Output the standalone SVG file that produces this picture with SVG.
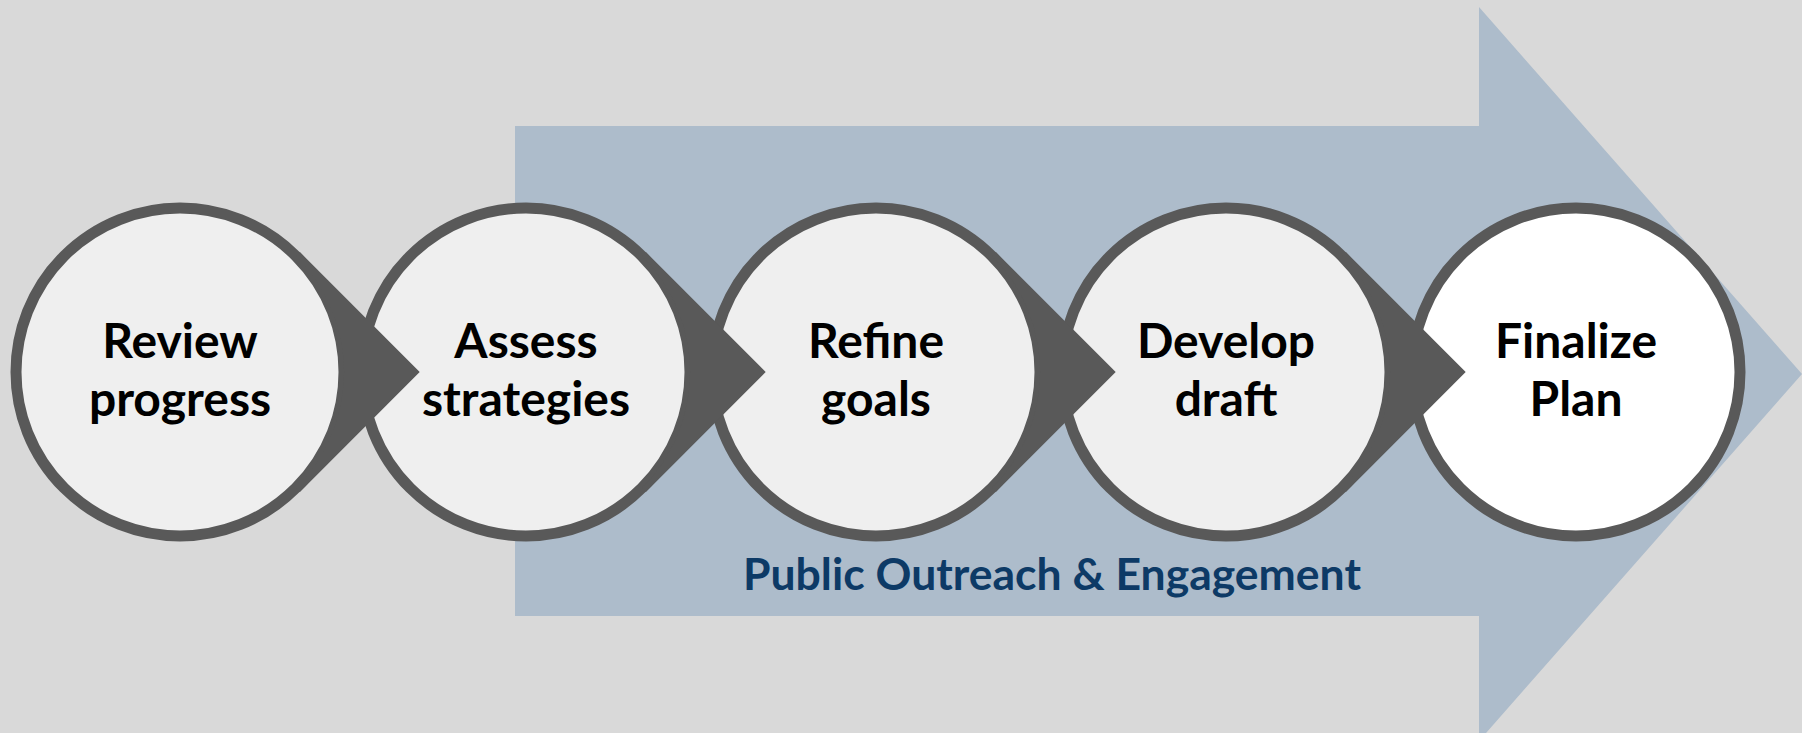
<svg xmlns="http://www.w3.org/2000/svg" width="1802" height="733" viewBox="0 0 1802 733">
  <style>
    .ring { fill: #efefef; stroke: #595959; stroke-width: 11; }
    .ring.last { fill: #ffffff; }
    .lbl { font-family: Lato, "Open Sans", "Liberation Sans", sans-serif; font-weight: 700; font-size: 48px; fill: #000000; text-anchor: middle; }
    .band { font-family: Lato, "Open Sans", "Liberation Sans", sans-serif; font-weight: 700; font-size: 44.5px; fill: #0d3a66; text-anchor: middle; }
    .ptr { fill: #595959; stroke: none; }
  </style>
  <rect x="0" y="0" width="1802" height="733" fill="#d9d9d9"/>
  <g id="outreach-arrow">
    <polygon points="515,126 1479,126 1479,7 1802,374 1479,741 1479,616 515,616" fill="#adbccb"/>
    <text class="band" x="1052" y="590">Public Outreach &amp; Engagement</text>
  </g>
  <g id="node-review">
    <circle class="ring" cx="180" cy="372" r="164"/>
    <text class="lbl" x="180" y="358">Review</text>
    <text class="lbl" x="180" y="416">progress</text>
  </g>
  <g id="node-assess">
    <circle class="ring" cx="526" cy="372" r="164"/>
    <text class="lbl" x="526" y="358">Assess</text>
    <text class="lbl" x="526" y="416">strategies</text>
  </g>
  <g id="node-refine">
    <circle class="ring" cx="876" cy="372" r="164"/>
    <text class="lbl" x="876" y="358">Refine</text>
    <text class="lbl" x="876" y="416">goals</text>
  </g>
  <g id="node-develop">
    <circle class="ring" cx="1226" cy="372" r="164"/>
    <text class="lbl" x="1226" y="358">Develop</text>
    <text class="lbl" x="1226" y="416">draft</text>
  </g>
  <g id="node-finalize">
    <circle class="ring last" cx="1576" cy="372" r="164"/>
    <text class="lbl" x="1576" y="358">Finalize</text>
    <text class="lbl" x="1576" y="416">Plan</text>
  </g>
  <g id="connectors">
    <path class="ptr" d="M299.9,252.1 L419.7,372 L299.9,491.9 L296,488 A164 164 0 0 0 296,256 Z"/>
    <path class="ptr" d="M645.9,252.1 L765.7,372 L645.9,491.9 L642,488 A164 164 0 0 0 642,256 Z"/>
    <path class="ptr" d="M995.9,252.1 L1115.7,372 L995.9,491.9 L992,488 A164 164 0 0 0 992,256 Z"/>
    <path class="ptr" d="M1345.9,252.1 L1465.7,372 L1345.9,491.9 L1342,488 A164 164 0 0 0 1342,256 Z"/>
  </g>
</svg>
